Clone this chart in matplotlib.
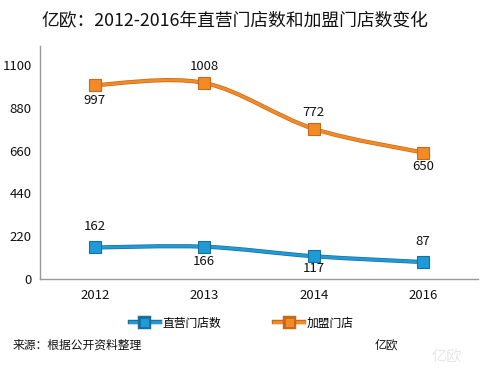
import matplotlib
matplotlib.use("Agg")
import matplotlib.pyplot as plt
from matplotlib.path import Path
from matplotlib.patches import PathPatch
from matplotlib.lines import Line2D
import matplotlib.patheffects as pe
import numpy as np

plt.rcParams['font.family'] = ['Noto Sans CJK SC', 'DejaVu Sans']

years = ['2012', '2013', '2014', '2016']
direct = [162, 166, 117, 87]
franchise = [997, 1008, 772, 650]
yticks = [0, 220, 440, 660, 880, 1100]
title = '亿欧：2012-2016年直营门店数和加盟门店数变化'
series_names = ['直营门店数', '加盟门店']
source = '来源：根据公开资料整理'
brand = '亿欧'

blue, blue_edge = '#1E9BD7', '#1A6E9E'
orange, orange_edge = '#F28A26', '#C8691A'

fig = plt.figure(figsize=(4.8, 3.7), dpi=100)
ax = fig.add_axes([40/480, 1-279/370, 438/480, (279-45.6)/370])

def smooth_path(xs, ys):
    xs = np.asarray(xs, float); ys = np.asarray(ys, float)
    px = np.concatenate([[xs[0]], xs, [xs[-1]]])
    py = np.concatenate([[ys[0]], ys, [ys[-1]]])
    verts = [(xs[0], ys[0])]
    codes = [Path.MOVETO]
    t = 1/6
    for i in range(1, len(px)-2):
        c1 = (px[i] + (px[i+1]-px[i-1])*t, py[i] + (py[i+1]-py[i-1])*t)
        c2 = (px[i+1] - (px[i+2]-px[i])*t, py[i+1] - (py[i+2]-py[i])*t)
        verts += [c1, c2, (px[i+1], py[i+1])]
        codes += [Path.CURVE4]*3
    return Path(verts, codes)

x = np.arange(len(years))
for vals, c, ec in [(direct, blue, blue_edge), (franchise, orange, orange_edge)]:
    p = PathPatch(smooth_path(x, vals), facecolor='none', edgecolor=c, lw=2.0,
                  path_effects=[pe.Stroke(linewidth=3.0, foreground=ec), pe.Normal()], zorder=2)
    ax.add_patch(p)
    ax.plot(x, vals, ls='none', marker='s', ms=8.5, mfc=c, mec=ec, mew=0.8, zorder=3)

# label offsets in points (positive = above)
f_off = [-11, 11.5, 11.5, -10]
d_off = [15, -11, -9, 15]
for vals, offs in [(franchise, f_off), (direct, d_off)]:
    for xi, v, off in zip(x, vals, offs):
        ax.annotate(str(v), (xi, v), xytext=(0, off), textcoords='offset points',
                    ha='center', va='center', fontsize=9.5, color='#111111')

ax.set_xlim(-0.5, len(years)-0.5)
ax.set_ylim(0, 1200)
ax.set_xticks(x)
ax.set_xticklabels(years)
ax.set_yticks(yticks)
ax.tick_params(length=0, labelsize=9.5, colors='#111111')
ax.tick_params(axis='y', pad=6)
ax.tick_params(axis='x', pad=7)
for s in ['top', 'right']:
    ax.spines[s].set_visible(False)
for s in ['left', 'bottom']:
    ax.spines[s].set_color('#999999')
    ax.spines[s].set_linewidth(1)

fig.text(0.49, 1-21/370, title, ha='center', va='center', fontsize=12.8, color='#111111')

handles = [Line2D([], [], color=blue, lw=2.2, marker='s', ms=6.5, mfc=blue, mec=blue_edge, mew=0.6,
                  path_effects=[pe.Stroke(linewidth=3.2, foreground=blue_edge), pe.Normal()]),
           Line2D([], [], color=orange, lw=2.2, marker='s', ms=6.5, mfc=orange, mec=orange_edge, mew=0.6,
                  path_effects=[pe.Stroke(linewidth=3.2, foreground=orange_edge), pe.Normal()])]
fig.legend(handles, series_names, loc='center', bbox_to_anchor=(242/480, 1-323/370), ncol=2,
           frameon=False, fontsize=8.5, handlelength=2.5, handletextpad=0.25, columnspacing=4.5)

fig.text(13/480, 1-345/370, source, ha='left', va='center', fontsize=8.5, color='#111111')
fig.text(375/480, 1-345/370, brand, ha='left', va='center', fontsize=8.5, color='#111111')
fig.text(447/480, 1-357/370, brand, ha='center', va='center', fontsize=11, color='#e8e8e8')

fig.savefig('out.png', dpi=100)
